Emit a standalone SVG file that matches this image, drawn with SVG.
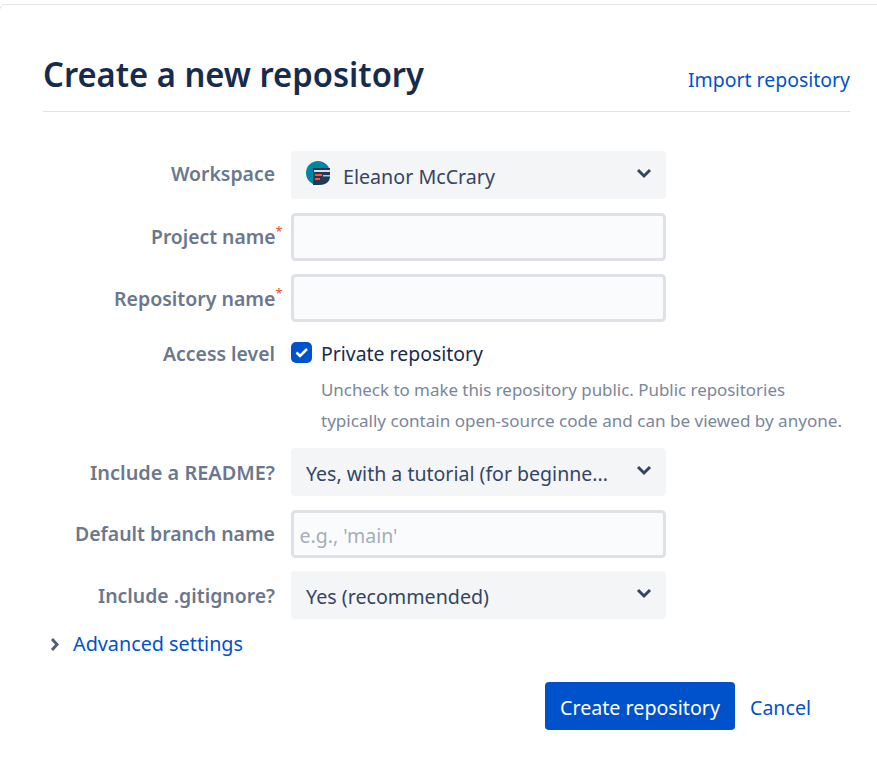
<svg xmlns="http://www.w3.org/2000/svg" width="877" height="763" viewBox="0 0 877 763">
<style>
text{font-family:"Noto Sans","Open Sans","Liberation Sans",sans-serif;font-size:20px}
.lab{fill:#6b778c;font-weight:600;text-anchor:end}
.val{fill:#344563}
.link{fill:#0052cc}
.help{fill:#7a869a;font-size:16.5px}
.sel{fill:#f4f5f7}
.inp{fill:#fafbfc;stroke:#dfe1e6;stroke-width:3}
.chev{fill:none;stroke:#344563;stroke-width:3}
.req{fill:#e0502a;font-size:13px;font-weight:400}
</style>
<rect width="877" height="763" fill="#fff"/>
<path d="M0 9Q0 4.500 5 4.500H877" fill="none" stroke="#e4e5ea" stroke-width="1"/>
<g id="header">
<text x="43" y="87" style="font-size:34px;font-weight:600;fill:#172b4d" textLength="381" lengthAdjust="spacingAndGlyphs">Create a new repository</text>
<text x="688" y="87" class="link" textLength="162" lengthAdjust="spacingAndGlyphs">Import repository</text>
<rect x="43" y="111" width="807" height="1" fill="#dfe1e6"/>
</g>
<g id="workspace">
<text x="275" y="181" class="lab" textLength="104" lengthAdjust="spacingAndGlyphs">Workspace</text>
<rect x="291" y="151" width="375" height="48" rx="4" class="sel"/>
<circle cx="318" cy="173" r="12" fill="#00869e"/>
<path d="M313 168H330V176Q330 185 318 185H313Z" fill="#253858"/>
<rect x="314" y="170" width="16" height="2" fill="#dfe1e6"/>
<rect x="315" y="174" width="7" height="2" fill="#ff5630"/>
<rect x="323" y="175" width="7" height="1.500" fill="#79e2f2"/>
<rect x="315" y="178" width="5" height="2" fill="#ff5630"/>
<text x="343" y="184" class="val" textLength="152" lengthAdjust="spacingAndGlyphs">Eleanor McCrary</text>
<path d="M638 170L644 176L650 170" class="chev"/>
</g>
<g id="project-name">
<text x="282.500" y="244" class="lab" textLength="131.500" lengthAdjust="spacingAndGlyphs">Project name<tspan class="req" dy="-8">*</tspan></text>
<rect x="292.500" y="214.500" width="372" height="45" rx="3" class="inp"/>
</g>
<g id="repository-name">
<text x="282.500" y="306" class="lab" textLength="168.500" lengthAdjust="spacingAndGlyphs">Repository name<tspan class="req" dy="-8">*</tspan></text>
<rect x="292.500" y="275.500" width="372" height="45" rx="3" class="inp"/>
</g>
<g id="access-level">
<text x="275" y="361" class="lab" textLength="112" lengthAdjust="spacingAndGlyphs">Access level</text>
<rect x="291" y="342" width="21" height="21" rx="5" fill="#0052cc"/>
<path d="M296.500 352.500L300 356L307 349" fill="none" stroke="#fff" stroke-width="2.500"/>
<text x="321" y="361" fill="#172b4d" textLength="162" lengthAdjust="spacingAndGlyphs">Private repository</text>
<text x="321" y="396" class="help" textLength="464" lengthAdjust="spacingAndGlyphs">Uncheck to make this repository public. Public repositories</text>
<text x="321" y="427" class="help" textLength="521" lengthAdjust="spacingAndGlyphs">typically contain open-source code and can be viewed by anyone.</text>
</g>
<g id="include-readme">
<text x="275" y="480" class="lab" textLength="185" lengthAdjust="spacingAndGlyphs">Include a README?</text>
<rect x="291" y="448" width="375" height="48" rx="4" class="sel"/>
<text x="306" y="481" class="val" textLength="302" lengthAdjust="spacingAndGlyphs">Yes, with a tutorial (for beginne...</text>
<path d="M638 467L644 473L650 467" class="chev"/>
</g>
<g id="default-branch">
<text x="275" y="541" class="lab" textLength="200" lengthAdjust="spacingAndGlyphs">Default branch name</text>
<rect x="292.500" y="511.500" width="372" height="45" rx="3" class="inp"/>
<text x="299.500" y="543" fill="#a5adba" textLength="98" lengthAdjust="spacingAndGlyphs">e.g., 'main'</text>
</g>
<g id="include-gitignore">
<text x="275" y="603" class="lab" textLength="177" lengthAdjust="spacingAndGlyphs">Include .gitignore?</text>
<rect x="291" y="571" width="375" height="48" rx="4" class="sel"/>
<text x="306" y="604" class="val" textLength="183" lengthAdjust="spacingAndGlyphs">Yes (recommended)</text>
<path d="M638 590L644 596L650 590" class="chev"/>
</g>
<g id="advanced-settings">
<path d="M52 639L57 644.500L52 650" fill="none" stroke="#505f79" stroke-width="3"/>
<text x="73" y="651" class="link" textLength="170" lengthAdjust="spacingAndGlyphs">Advanced settings</text>
</g>
<g id="actions">
<rect x="545" y="682" width="190" height="48" rx="4" fill="#0052cc"/>
<text x="560" y="715" fill="#fff" textLength="160" lengthAdjust="spacingAndGlyphs">Create repository</text>
<text x="750" y="715" class="link" textLength="61" lengthAdjust="spacingAndGlyphs">Cancel</text>
</g>
</svg>
